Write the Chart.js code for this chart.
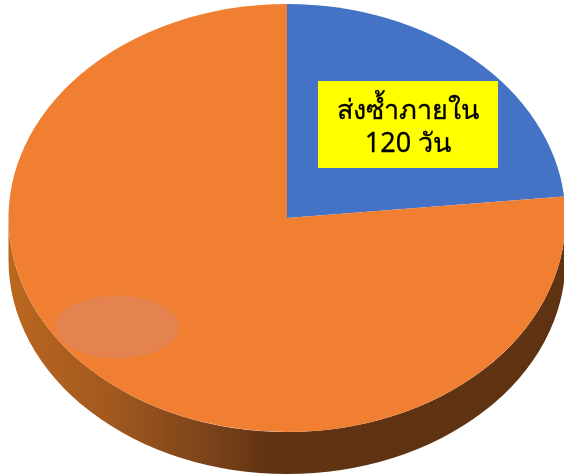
<!DOCTYPE html>
<html>
<head>
<meta charset="utf-8">
<script src="https://cdn.jsdelivr.net/npm/chart.js@4"></script>
<style>
  html, body { margin: 0; padding: 0; background: #fff; }
  #wrap { width: 564px; height: 475px; }
</style>
</head>
<body>
<div id="wrap"><canvas id="chart"></canvas></div>
<script>
const categories = ["ส่งซ้ำภายใน 120 วัน", "อื่น ๆ"];
const shares = [23.4, 76.6];
const sliceColors = ["#4472c4", "#f17f31"];
const labelLines = ["ส่งซ้ำภายใน", "120 วัน"];

// the pie is laid out as a circle, then stretched sideways into a tilted disc
const stretchX = 278.5 / 214;
const depth = 42;

const tiltPlugin = {
  id: "tilt",
  beforeDatasetsDraw(chart) {
    const ctx = chart.ctx;
    const arc = chart.getDatasetMeta(0).data[0];
    const rx = arc.outerRadius * stretchX;
    const ry = arc.outerRadius;

    // rim below the front edge
    const rim = ctx.createLinearGradient(arc.x - rx, 0, arc.x + rx, 0);
    rim.addColorStop(0, "#bb671f");
    rim.addColorStop(0.18, "#a2591f");
    rim.addColorStop(0.36, "#7b431a");
    rim.addColorStop(0.47, "#603312");
    rim.addColorStop(1, "#5f3311");
    ctx.save();
    ctx.beginPath();
    ctx.ellipse(arc.x, arc.y, rx, ry, 0, 0, Math.PI);
    ctx.lineTo(arc.x - rx, arc.y + depth);
    ctx.ellipse(arc.x, arc.y + depth, rx, ry, 0, Math.PI, 0, true);
    ctx.closePath();
    ctx.fillStyle = rim;
    ctx.fill();
    ctx.restore();

    ctx.save();
    ctx.translate(arc.x, 0);
    ctx.scale(stretchX, 1);
    ctx.translate(-arc.x, 0);
  },
  afterDatasetsDraw(chart) {
    const ctx = chart.ctx;
    ctx.restore();

    // pale patch on the orange slice
    ctx.save();
    ctx.beginPath();
    ctx.ellipse(117, 327, 62, 31.5, 0, 0, Math.PI * 2);
    ctx.fillStyle = "#e4834f";
    ctx.fill();

    // yellow label
    ctx.fillStyle = "#ffff00";
    ctx.fillRect(318, 81, 180, 87);
    ctx.fillStyle = "#000";
    ctx.strokeStyle = "#000";
    ctx.lineWidth = 0.3;
    ctx.font = '27px "Noto Sans", "DejaVu Sans", sans-serif';
    ctx.textAlign = "center";
    ctx.textBaseline = "alphabetic";
    labelLines.forEach((line, i) => {
      const y = 119 + i * 33;
      ctx.fillText(line, 408, y);
      ctx.strokeText(line, 408, y);
    });
    ctx.restore();
  }
};

new Chart(document.getElementById("chart"), {
  type: "pie",
  data: {
    labels: categories,
    datasets: [{
      data: shares,
      backgroundColor: sliceColors,
      borderWidth: 0
    }]
  },
  options: {
    responsive: true,
    maintainAspectRatio: false,
    animation: false,
    layout: { padding: { left: 10, right: 0, top: 4, bottom: 43 } },
    plugins: {
      legend: { display: false },
      tooltip: { enabled: false }
    }
  },
  plugins: [tiltPlugin]
});
</script>
</body>
</html>
